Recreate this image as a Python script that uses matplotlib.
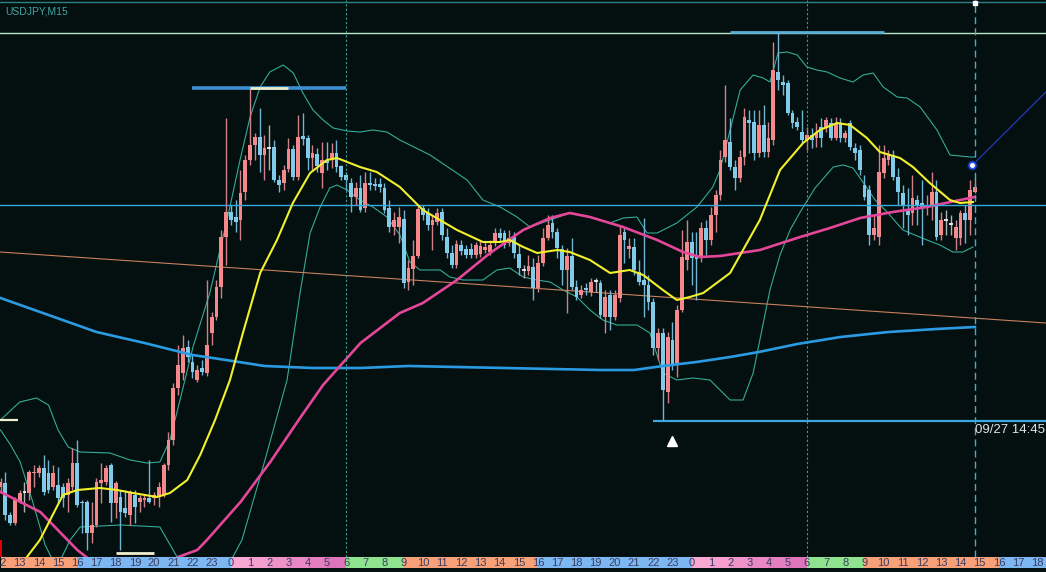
import matplotlib
matplotlib.use("Agg")
import matplotlib.pyplot as plt
import numpy as np

# ---------------- data (heights above the chart floor, candle index on x) ----------------
symbol = "USDJPY,M15"
cursor_label = "09/27 14:45"

opens = [70, 74, 42, 34, 55, 65, 64, 84, 84, 89,
         84, 70, 72, 70, 62, 70, 94, 55, 55, 24,
         32, 74, 75, 92, 54, 60, 49, 42, 62, 55,
         57, 59, 59, 60, 62, 92, 117, 169, 184, 210,
         195, 177, 189, 184, 224, 240, 270, 320, 345, 340,
         337, 365, 397, 412, 420, 402, 409, 410, 377, 374,
         388, 408, 380, 421, 419, 399, 403, 384, 397, 397,
         404, 391, 382, 374, 360, 369, 349, 374, 373, 373,
         369, 349, 330, 330, 338, 275, 288, 301, 349, 344,
         332, 335, 345, 320, 304, 292, 312, 308, 308, 302,
         303, 307, 305, 314, 324, 324, 314, 320, 303, 287,
         286, 290, 269, 294, 319, 334, 325, 308, 287, 301,
         270, 262, 269, 265, 276, 274, 240, 262, 240, 259,
         325, 308, 310, 285, 277, 272, 255, 209, 224, 165,
         217, 192, 247, 297, 315, 302, 299, 329, 317, 342,
         362, 400, 415, 390, 379, 400, 437, 435, 404, 432,
         405, 417, 485, 475, 474, 444, 435, 425, 417, 422,
         419, 430, 429, 434, 419, 434, 419, 434, 409, 407,
         372, 367, 322, 320, 384, 397, 402, 380, 364, 347,
         344, 357, 354, 350, 350, 365, 322, 337, 333, 319,
         319, 344, 337, 365]
closes = [75, 42, 34, 57, 64, 65, 85, 85, 89, 65,
          67, 84, 59, 59, 74, 94, 52, 54, 24, 32,
          75, 77, 89, 54, 74, 45, 44, 64, 50, 59,
          59, 55, 62, 70, 92, 117, 169, 192, 209, 200,
          185, 187, 185, 212, 240, 270, 320, 345, 337, 335,
          364, 397, 412, 420, 402, 409, 409, 377, 372, 387,
          408, 380, 420, 418, 399, 404, 391, 397, 394, 404,
          390, 380, 377, 360, 369, 347, 374, 372, 371, 370,
          347, 330, 337, 340, 274, 289, 301, 348, 342, 332,
          337, 344, 322, 304, 292, 313, 306, 302, 302, 312,
          311, 310, 312, 324, 319, 312, 319, 304, 289, 287,
          291, 269, 294, 319, 332, 325, 309, 287, 301, 270,
          260, 267, 267, 275, 276, 242, 260, 240, 262, 322,
          317, 311, 287, 275, 272, 255, 209, 224, 167, 220,
          192, 247, 300, 315, 299, 298, 329, 317, 342, 362,
          397, 417, 390, 379, 400, 440, 434, 404, 432, 405,
          419, 487, 477, 472, 444, 434, 430, 417, 422, 417,
          425, 419, 437, 419, 434, 419, 424, 410, 404, 387,
          360, 322, 329, 385, 399, 402, 380, 365, 352, 342,
          359, 352, 349, 351, 365, 320, 337, 337, 333, 330,
          344, 337, 367, 370]
highs = [79, 85, 45, 60, 67, 75, 87, 92, 92, 102,
         97, 92, 90, 74, 79, 109, 117, 57, 57, 55,
         79, 94, 92, 94, 76, 67, 67, 67, 67, 62,
         62, 97, 65, 75, 94, 125, 174, 212, 222, 217,
         202, 192, 197, 277, 245, 277, 327, 439, 352, 357,
         387, 402, 469, 424, 449, 422, 432, 417, 382, 392,
         419, 412, 442, 444, 422, 412, 409, 415, 415, 414,
         417, 392, 385, 379, 375, 382, 385, 385, 379, 379,
         374, 357, 345, 350, 347, 297, 317, 352, 352, 349,
         342, 349, 349, 329, 312, 317, 317, 312, 314, 315,
         317, 315, 317, 329, 329, 327, 327, 325, 312, 292,
         302, 299, 302, 329, 342, 342, 329, 312, 309, 319,
         277, 272, 274, 279, 279, 277, 267, 267, 267, 332,
         330, 319, 319, 297, 339, 282, 259, 229, 229, 225,
         235, 252, 327, 337, 325, 325, 335, 337, 350, 367,
         407, 472, 439, 397, 407, 449, 447, 447, 447, 452,
         435, 515, 524, 482, 477, 447, 440, 447, 430, 429,
         434, 439, 440, 439, 440, 439, 427, 437, 414, 412,
         382, 372, 342, 412, 412, 407, 407, 389, 372, 369,
         382, 362, 377, 362, 385, 377, 345, 347, 342, 337,
         347, 352, 377, 379]
lows = [65, 37, 32, 32, 54, 45, 57, 70, 80, 62,
        64, 67, 54, 50, 45, 67, 50, 24, 7, 14,
        30, 54, 72, 35, 39, 7, 40, 32, 34, 45,
        50, 54, 52, 50, 60, 87, 112, 162, 177, 195,
        179, 175, 182, 181, 212, 237, 259, 292, 332, 325,
        317, 357, 392, 397, 385, 377, 387, 375, 365, 367,
        385, 377, 377, 412, 387, 387, 385, 369, 387, 389,
        385, 377, 367, 345, 352, 345, 345, 367, 367, 365,
        344, 325, 322, 314, 269, 267, 272, 299, 337, 327,
        307, 332, 317, 299, 289, 289, 302, 299, 299, 299,
        300, 304, 302, 311, 315, 309, 311, 299, 282, 279,
        282, 257, 265, 291, 317, 319, 299, 272, 244, 267,
        257, 259, 262, 261, 265, 239, 224, 227, 237, 255,
        294, 299, 282, 272, 240, 247, 202, 197, 136, 154,
        187, 180, 245, 287, 272, 257, 295, 302, 312, 325,
        357, 395, 387, 367, 375, 392, 404, 397, 400, 400,
        400, 412, 467, 462, 442, 429, 427, 414, 407, 409,
        410, 410, 425, 417, 417, 415, 415, 407, 397, 382,
        357, 312, 317, 312, 379, 392, 377, 352, 329, 322,
        332, 332, 312, 342, 337, 317, 317, 322, 322, 307,
        312, 314, 322, 364]

# moving averages / bands (x = candle index)
ma_fast_x = [2, 5.5, 8.2, 13, 16, 20.7, 24.3, 27.6, 32.6, 35.3, 38.9, 41.6, 44.7, 47.8, 50.5,
             54.1, 57.6, 60.9, 64.5, 68, 70.1, 74.9, 78.4, 83.2, 88, 95.1, 100.5, 104.1, 106.1,
             108.9, 111.8, 116, 118.6, 122.8, 127, 131.1, 133.9, 138, 140.9, 143.6, 146.4, 152,
             158.2, 162.4, 167.2, 170.7, 174.3, 177, 180.5, 183.2, 187.4, 190.1, 193.6, 197.8,
             199.9, 202.6]
ma_fast_y = [-28, 0, 17, 62, 67, 69, 67, 64, 60, 64, 77, 102, 137, 177, 224,
             284, 317, 354, 384, 397, 399, 390, 385, 370, 347, 327, 315, 315, 317,
             310, 304, 307, 305, 297, 284, 287, 282, 267, 257, 260, 264, 284,
             337, 387, 414, 427, 434, 432, 419, 405, 399, 390, 374, 357,
             354, 355]
ma_mid_x = [0, 8.3, 16, 20.8, 27, 32.3, 37, 41, 43, 50, 56.2, 62.4, 67.2, 75, 83.2, 88, 95.1,
            102, 108.9, 114.5, 118.6, 122.8, 129.7, 136.8, 142.2, 145.7, 149.9, 158.2, 166.6,
            172.8, 179.1, 185.9, 193, 199.9, 203]
ma_mid_y = [65, 45, 7, -11, -19, -13, 0, 7, 17, 55, 95, 139, 172, 214, 244, 254, 277,
            304, 327, 339, 344, 340, 330, 317, 305, 300, 301, 307, 320,
            329, 339, 345, 350, 357, 360]
ma_slow_x = [0, 10, 20, 30, 40, 47, 55, 65, 75, 85, 95, 105, 115, 125, 132, 138, 145, 152,
             158, 166, 175, 185, 195, 203]
ma_slow_y = [259, 242, 225, 214, 202, 197, 191, 189, 189, 191, 190, 189, 188, 187, 187, 191,
             195, 200, 205, 213, 220, 225, 228, 230]
bb_up_x = [0, 4, 7.5, 10, 12, 14.1, 16.6, 22.8, 27, 30.5, 33.2, 35.3, 37.4, 40.1, 43.6, 47.2,
           49.9, 52, 54.1, 56.1, 58.9, 61, 63, 65.1, 67.2, 69.3, 72.2, 74.9, 77.6, 80.5, 83.2,
           89.5, 97.2, 100.5, 104.1, 107.6, 110.3, 114.5, 118.6, 122.8, 127, 129.7, 132.6,
           134.7, 136.8, 140.9, 145.1, 148.4, 149.9, 152, 154.1, 156.8, 158.9, 160.3, 162,
           163.9, 166, 168, 170.1, 172.2, 174.9, 177.6, 179.7, 181.8, 183.9, 186.8, 188.9,
           191.6, 195.1, 197.8, 202, 203]
bb_up_y = [137, 155, 159, 152, 127, 110, 105, 104, 97, 94, 95, 117, 157, 210, 264, 337,
           397, 440, 470, 485, 492, 484, 464, 447, 437, 429, 426, 425, 427, 425, 417,
           402, 377, 357, 350, 340, 330, 337, 344, 340, 334, 339, 340,
           324, 324, 334, 350, 370, 387, 427, 467, 482, 479, 475, 504,
           505, 502, 490, 487, 485, 479, 475, 482, 484, 470, 460, 459,
           450, 427, 402, 400, 400]
bb_dn_x = [0, 2.1, 4.1, 6.6, 9.3, 11.4, 12.8, 14.5, 16.6, 25, 33.2, 36.8, 40.5, 44.7, 48.4,
           50.3, 55.1, 59.7, 62.4, 64.5, 66.6, 68.6, 70.1, 72.2, 74.9, 77.6, 80.5, 83.2, 85.3,
           87.4, 91.6, 93.6, 96.4, 100.5, 103.4, 106.1, 108.9, 111.8, 114.5, 117.2, 120.1,
           122.8, 125.5, 128.4, 132.6, 135.3, 138, 140.9, 144.3, 147.8, 149.9, 152, 154.7,
           156.8, 158.2, 160.3, 162.4, 164.5, 166.6, 169.7, 173.5, 175.5, 177.6, 180.1,
           182.2, 184.7, 188, 193, 195.7, 198.4, 200.5, 202.6]
bb_dn_y = [127, 112, 95, 57, 12, -8, 0, 17, 30, 32, 30, 0, -23, -28, 0,
           17, 97, 177, 264, 324, 350, 369, 372, 367, 357, 350, 340, 322, 295,
           287, 287, 280, 277, 277, 287, 289, 280, 277, 275, 267, 260,
           247, 237, 232, 232, 224, 184, 177, 179, 177, 167, 157, 157,
           184, 217, 267, 302, 327, 345, 369, 390, 392, 389, 372,
           357, 345, 327, 317, 312, 305, 305, 310]

# levels / objects
trend_x = [-0.1, 217.8]
trend_y = [305, 234]
ray_x = [202.5, 217.8]
ray_y = [392, 465]
level_full = [555.5, 524.5, 352]          # top border, upper level, middle level
prev_high = (469, 40, 72)                 # value, start index, end index
prev_high_mark = (469, 52, 60)
day_high = (525, 152, 184)
day_low = (136, 136, 218)
left_mark = (137, -0.1, 3.7)
bottom_mark = (4, 24, 32)
day_lines = [72, 168]
current_bar = 203
low_arrow = (140, 116)

hour_labels = ["12", "13", "14", "15", "16", "17", "18", "19", "20", "21", "22", "23",
               "0", "1", "2", "3", "4", "5", "6", "7", "8", "9", "10", "11",
               "12", "13", "14", "15", "16", "17", "18", "19", "20", "21", "22", "23",
               "0", "1", "2", "3", "4", "5", "6", "7", "8", "9", "10", "11",
               "12", "13", "14", "15", "16", "17", "18"]

# ---------------- style ----------------
BG = "#03100f"
UP = "#f4888a"
DN = "#80cbea"
UP_W = "#d08088"
DN_W = "#72b4d4"
pinks = ["#f7a8d3", "#f39ece", "#ee93c8", "#e988c4", "#e47ebf", "#df74bb"]
GREEN = "#8fe38f"
ORANGE = "#f8a078"
BLUE = "#7db7f2"


def session_color(h):
    if h < 6:
        return pinks[h]
    if h < 9:
        return GREEN
    if h < 16:
        return ORANGE
    return BLUE


W, H = 1046, 572
XMIN = -0.5 / 4.8
XMAX = XMIN + W / 4.8

fig = plt.figure(figsize=(W / 100, H / 100), dpi=100)
fig.patch.set_facecolor(BG)
ax = fig.add_axes([0, 15 / H, 1, 557 / H])
ax.set_xlim(XMIN, XMAX)
ax.set_ylim(0, 557)
ax.axis("off")

o = np.array(opens, float)
c = np.array(closes, float)
hi = np.array(highs, float)
lo = np.array(lows, float)
idx = np.arange(len(o))
up = c > o
dn = c < o
dj = c == o

# bands
ax.plot(bb_up_x, bb_up_y, color="#35ab98", lw=0.8, zorder=1)
ax.plot(bb_dn_x, bb_dn_y, color="#35ab98", lw=0.8, zorder=1)
ax.plot(trend_x, trend_y, color="#c9805e", lw=0.8, zorder=1)

# candles
BW = 0.8
ax.vlines(idx[up], lo[up], hi[up], color=UP_W, lw=1.0, zorder=2)
ax.vlines(idx[dn], lo[dn], hi[dn], color=DN_W, lw=1.0, zorder=2)
ax.vlines(idx[dj], lo[dj], hi[dj], color="#b0b0b0", lw=1.0, zorder=2)
ax.bar(idx[up], c[up] - o[up], bottom=o[up], width=BW, color=UP, linewidth=0, zorder=3)
ax.bar(idx[dn], o[dn] - c[dn], bottom=c[dn], width=BW, color=DN, linewidth=0, zorder=3)
ax.hlines(c[dj], idx[dj] - BW / 2, idx[dj] + BW / 2, color="#f2f2f2", lw=1.3, zorder=3)

# moving averages
ax.plot(ma_slow_x, ma_slow_y, color="#2a9be2", lw=1.9, zorder=4)
ax.plot(ma_mid_x, ma_mid_y, color="#e4479a", lw=1.9, zorder=4)
ax.plot(ma_fast_x, ma_fast_y, color="#f2ef2c", lw=1.5, zorder=5)

# horizontal levels
ax.axhline(level_full[0], color="#2c8282", lw=1.0, zorder=4)
ax.axhline(level_full[1], color="#b6e6c4", lw=1.0, zorder=4)
ax.axhline(level_full[2], color="#36a8dc", lw=1.0, zorder=4)
ax.hlines(prev_high[0], prev_high[1], prev_high[2], color="#3b8fd2", lw=2.6, zorder=5)
ax.hlines(prev_high_mark[0], prev_high_mark[1], prev_high_mark[2], color="#ecebc8", lw=2.0, zorder=6)
ax.hlines(day_high[0], day_high[1], day_high[2], color="#5aaed6", lw=2.0, zorder=5)
ax.hlines(day_low[0], day_low[1], day_low[2], color="#3ea6dc", lw=1.6, zorder=5)
ax.hlines(left_mark[0], left_mark[1], left_mark[2], color="#f0efd0", lw=1.6, zorder=5)
ax.hlines(bottom_mark[0], bottom_mark[1], bottom_mark[2], color="#f0efd0", lw=2.0, zorder=5)
ax.bar([0], [17], bottom=0, width=0.7, color="#e00000", linewidth=0, zorder=6)

# vertical separators
for d in day_lines:
    ax.axvline(d, color="#3a9c9c", lw=0.8, ls=(0, (2, 2)), zorder=4)
ax.axvline(current_bar, color="#4aa6d6", lw=1.0, ls=(0, (5, 3)), zorder=4)
ax.plot([current_bar], [554], marker="s", ms=2.5, color="white", zorder=7)

# ray + marker + arrow
ax.plot(ray_x, ray_y, color="#2035a8", lw=1.0, zorder=5)
ax.plot([ray_x[0]], [ray_y[0]], marker="o", ms=7, mfc="#2850ff", mec="#0a1a40", mew=1.0, zorder=7)
ax.plot([ray_x[0]], [ray_y[0]], marker="o", ms=2.5, mfc="white", mec="white", zorder=8)
ax.plot([low_arrow[0]], [low_arrow[1]], marker="^", ms=7, color="white", zorder=7)

# texts
fig.text(5 / W, 1 - 12 / H, symbol, color="#3fa6a6", fontsize=7.5,
         family="Liberation Sans", va="center", ha="left")
fig.text(975 / W, 1 - 430 / H, cursor_label, color="#e2e2e2", fontsize=9.5,
         family="Liberation Sans", va="center", ha="left")

# session/time bar
bar = fig.add_axes([0, 4 / H, 1, 11 / H])
bar.set_xlim(XMIN, XMAX)
bar.set_ylim(0, 1)
bar.axis("off")
for k, lab in enumerate(hour_labels):
    h = int(lab)
    bar.axvspan(4 * k, 4 * k + 4, color=session_color(h), lw=0)
    bar.text(4 * k, 0.45, lab, color="#3a3d62", fontsize=8, family="Liberation Sans",
             ha="center", va="center")

fig.savefig("out.png", dpi=100, facecolor=fig.get_facecolor())
